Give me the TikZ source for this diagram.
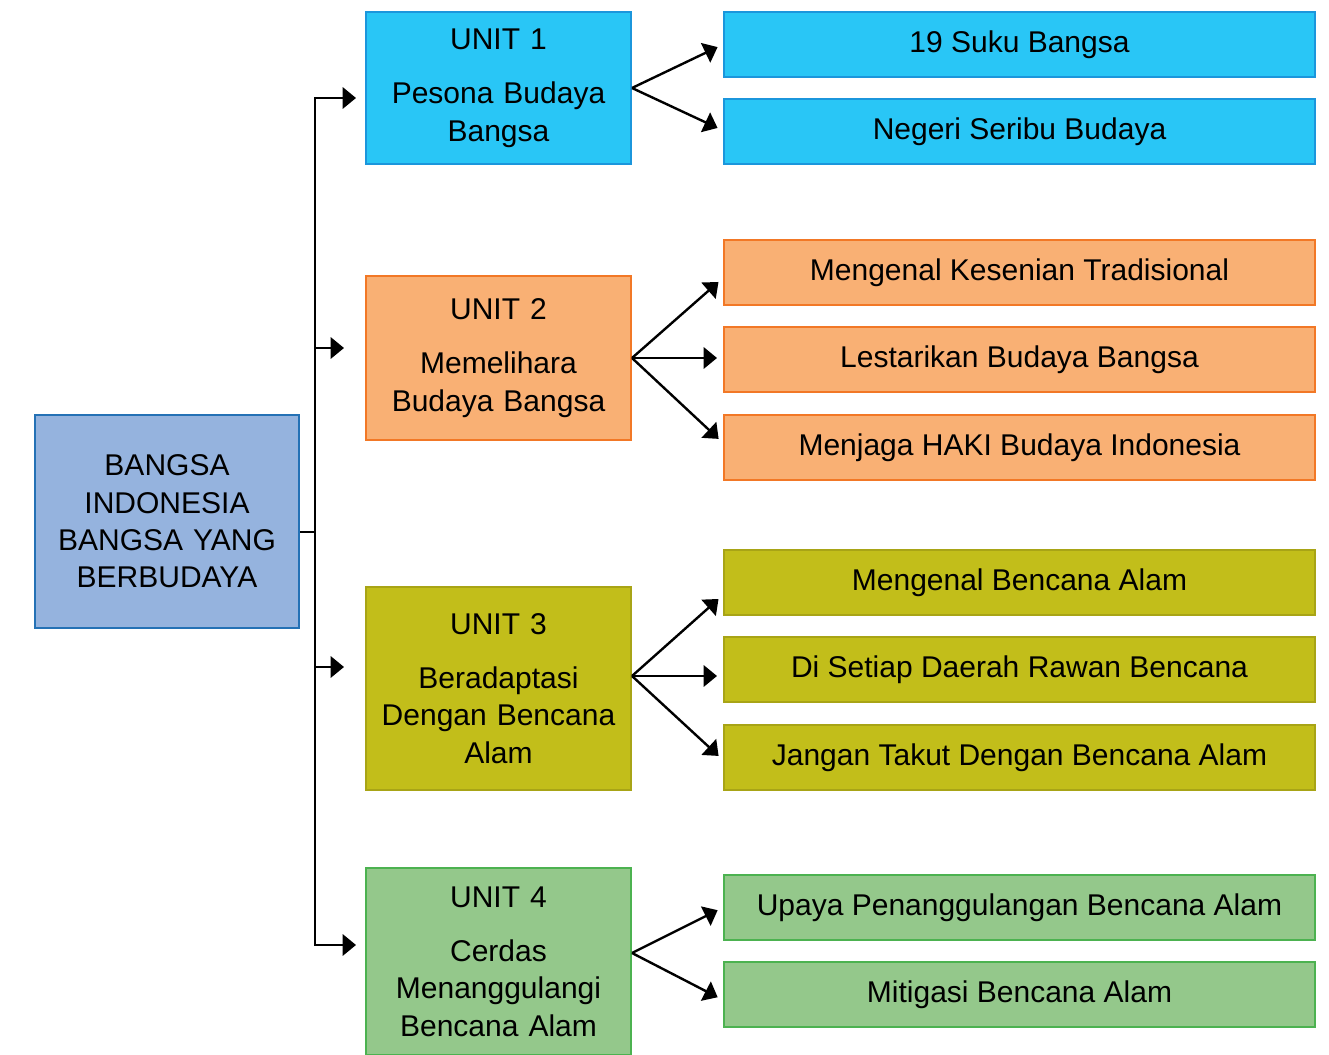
\documentclass[tikz,border=0pt]{standalone}
\usepackage{fontspec}
\setmainfont{Liberation Sans}
\usetikzlibrary{calc,arrows.meta}
\definecolor{mainfill}{RGB}{149,179,222}
\definecolor{mainline}{RGB}{36,113,181}
\definecolor{skyfill}{RGB}{41,198,246}
\definecolor{skyline}{RGB}{27,150,220}
\definecolor{peachfill}{RGB}{249,176,116}
\definecolor{peachline}{RGB}{242,120,38}
\definecolor{olivefill}{RGB}{194,190,26}
\definecolor{oliveline}{RGB}{168,164,22}
\definecolor{leaffill}{RGB}{148,200,139}
\definecolor{leafline}{RGB}{76,178,80}
\def\px{0.75pt}
\tikzset{
  box/.style={draw, line width=1.5pt, align=center, inner sep=2pt,
    font=\fontsize{22.5}{28}\selectfont},
  mainbox/.style={box, fill=mainfill, draw=mainline, text width=190pt,
    minimum width=264*\px, minimum height=213*\px},
  unitbox/.style={box, text width=190pt, minimum width=265*\px},
  topic/.style={box, minimum width=591*\px, minimum height=65*\px},
  skybox/.style={fill=skyfill, draw=skyline},
  peachbox/.style={fill=peachfill, draw=peachline},
  olivebox/.style={fill=olivefill, draw=oliveline},
  leafbox/.style={fill=leaffill, draw=leafline},
  arr/.style={line width=1.8pt, -{Triangle[length=10pt,width=16pt]}, shorten >=4.5pt},
}
\begin{document}
\begin{tikzpicture}[x=0.75pt, y=-0.75pt]
        \useasboundingbox (0,0) rectangle (1329,1055);
        %% main topic
        \node[mainbox] (m) at (167,521.5) {BANGSA\\INDONESIA\\BANGSA YANG\\BERBUDAYA};
        %% unit 1
        \node[unitbox, skybox, minimum height=152*\px] (u1) at (498.5,88) {UNIT 1\\[12.75pt]Pesona Budaya\\Bangsa};
        \foreach \n/\y/\dy/\t in {a/44.5/0/19 Suku Bangsa, b/131.5/-1/Negeri Seribu Budaya}{
            \node[topic, skybox] (u1\n) at (1019.5,\y) {\t};
            \draw[arr] (u1.east) -- ($(u1\n.west)+(0,\dy)$);
        }
        %% unit 2
        \node[unitbox, peachbox, minimum height=164*\px] (u2) at (498.5,358) {UNIT 2\\[12.75pt]Memelihara\\Budaya Bangsa};
        \foreach \n/\y/\dy/\t in {a/272.5/5.5/Mengenal Kesenian Tradisional, b/359.5/-1.5/Lestarikan Budaya Bangsa, c/447.5/-4.5/Menjaga HAKI Budaya Indonesia}{
            \node[topic, peachbox] (u2\n) at (1019.5,\y) {\t};
            \draw[arr] (u2.east) -- ($(u2\n.west)+(0,\dy)$);
        }
        %% unit 3
        \node[unitbox, olivebox, minimum height=203*\px] (u3) at (498.5,688.5) {UNIT 3\\[12.75pt]Beradaptasi\\Dengan Bencana\\Alam};
        \coordinate (f3) at ($(u3.east)+(0,-12.5)$);
        \foreach \n/\y/\dy/\t in {a/582.5/12.5/Mengenal Bencana Alam, b/669.5/6.5/Di Setiap Daerah Rawan Bencana, c/757.5/2.5/Jangan Takut Dengan Bencana Alam}{
            \node[topic, olivebox] (u3\n) at (1019.5,\y) {\t};
            \draw[arr] (f3) -- ($(u3\n.west)+(0,\dy)$);
        }
        %% unit 4
        \node[unitbox, leafbox, minimum height=187*\px] (u4) at (498.5,961.5) {UNIT 4\\[12.75pt]Cerdas\\Menanggulangi\\Bencana Alam};
        \coordinate (f4) at ($(u4.east)+(0,-8.5)$);
        \foreach \n/\y/\dy/\t in {a/907.5/0/Upaya Penanggulangan Bencana Alam, b/994.5/5.5/Mitigasi Bencana Alam}{
            \node[topic, leafbox] (u4\n) at (1019.5,\y) {\t};
            \draw[arr] (f4) -- ($(u4\n.west)+(0,\dy)$);
        }
        %% trunk from main topic to the units
        \coordinate (trunk) at (315,532);
        \draw[line width=1.8pt] (m.east |- trunk) -- (trunk);
        \foreach \u/\dx/\dy in {u1/-9/10, u2/-21/-10, u3/-21/-21.5, u4/-9/-16.5}
            \draw[arr, shorten >=0pt] (trunk) |- ($(\u.west)+(\dx,\dy)$);
\end{tikzpicture}
\end{document}
